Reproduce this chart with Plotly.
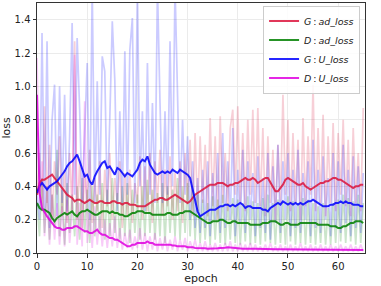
import plotly.graph_objects as go

# ---- data (sampled every half epoch) ----
g_ad_raw = [0.35, 0.60, 0.25, 0.88, 0.30, 0.65, 0.20, 0.55, 0.35, 0.70, 0.22, 0.50, 0.18, 0.60, 0.25, 1.27,
            0.20, 0.55, 0.15, 0.48, 0.30, 0.62, 0.18, 0.45, 0.25, 0.55, 0.15, 0.50, 0.28, 0.60, 0.20, 0.45,
            0.30, 0.55, 0.15, 0.48, 0.22, 0.50, 0.18, 0.42, 0.30, 0.58, 0.20, 0.52, 0.25, 0.60, 0.18, 0.55,
            0.30, 0.62, 0.22, 0.50, 0.28, 0.58, 0.20, 0.48, 0.25, 0.55, 0.18, 0.60, 0.30, 0.68, 0.22, 0.72,
            0.25, 0.70, 0.30, 0.65, 0.22, 0.81, 0.28, 0.70, 0.20, 0.82, 0.30, 0.60, 0.25, 0.75, 0.86, 0.35,
            0.88, 0.30, 0.72, 0.25, 0.80, 0.35, 0.86, 0.30, 0.87, 0.28, 0.75, 0.22, 0.70, 0.30, 0.62, 0.20,
            0.65, 0.30, 0.95, 0.35, 0.80, 0.25, 0.72, 0.30, 0.68, 0.20, 0.81, 0.28, 0.70, 0.35, 1.01, 0.25,
            0.75, 0.30, 0.83, 0.22, 0.70, 0.30, 0.78, 0.25, 0.72, 0.35, 0.80, 0.28, 0.68, 0.22, 0.75, 0.30,
            0.60, 0.25, 0.87]

d_ad_raw = [0.30, 0.10, 0.45, 0.12, 0.40, 0.08, 0.35, 0.15, 0.62, 0.10, 0.38, 0.05, 0.42, 0.12, 0.35, 0.10,
            0.40, 0.08, 0.45, 0.12, 0.38, 0.06, 0.40, 0.10, 0.35, 0.12, 0.42, 0.08, 0.38, 0.10, 0.45, 0.12,
            0.36, 0.08, 0.40, 0.10, 0.42, 0.06, 0.38, 0.12, 0.35, 0.08, 0.40, 0.10, 0.44, 0.12, 0.38, 0.08,
            0.36, 0.10, 0.42, 0.06, 0.40, 0.12, 0.38, 0.10, 0.45, 0.08, 0.40, 0.12, 0.42, 0.10, 0.38, 0.08,
            0.35, 0.06, 0.32, 0.08, 0.30, 0.05, 0.34, 0.08, 0.32, 0.06, 0.35, 0.05, 0.30, 0.08, 0.33, 0.06,
            0.32, 0.05, 0.30, 0.07, 0.34, 0.05, 0.31, 0.06, 0.30, 0.05, 0.33, 0.07, 0.35, 0.06, 0.30, 0.05,
            0.32, 0.06, 0.30, 0.05, 0.34, 0.07, 0.31, 0.05, 0.30, 0.06, 0.33, 0.05, 0.32, 0.06, 0.30, 0.05,
            0.28, 0.06, 0.30, 0.05, 0.27, 0.05, 0.30, 0.06, 0.32, 0.07, 0.35, 0.06, 0.33, 0.07, 0.31, 0.05,
            0.35, 0.06, 0.30]

g_u_raw = [0.35, 0.20, 1.32, 0.25, 1.27, 0.15, 0.80, 1.01, 0.22, 1.00, 0.30, 0.95, 0.25, 0.70, 1.38, 0.35,
           1.29, 0.86, 0.30, 0.75, 1.14, 0.20, 1.60, 0.30, 1.03, 0.35, 1.18, 1.09, 0.30, 0.80, 1.39, 1.04,
           0.25, 0.85, 0.30, 1.21, 0.35, 1.22, 1.41, 0.30, 1.60, 0.40, 0.85, 0.25, 1.14, 0.35, 0.90, 0.30,
           1.60, 0.91, 0.30, 0.85, 0.35, 1.27, 0.40, 1.60, 1.02, 0.30, 0.80, 0.35, 0.70, 0.20, 0.55, 0.15,
           0.45, 0.12, 0.50, 0.15, 0.55, 0.10, 0.48, 0.20, 0.60, 0.12, 0.72, 0.15, 0.55, 0.20, 0.75, 0.10,
           0.50, 0.18, 0.62, 0.12, 0.55, 0.20, 0.48, 0.10, 0.58, 0.15, 0.45, 0.12, 0.60, 0.08, 0.52, 0.18,
           0.65, 0.12, 0.55, 0.20, 0.60, 0.10, 0.50, 0.15, 0.62, 0.12, 0.48, 0.20, 0.55, 0.10, 0.68, 0.15,
           0.50, 0.12, 0.58, 0.20, 0.45, 0.10, 0.60, 0.15, 0.55, 0.12, 0.65, 0.18, 0.50, 0.10, 0.58, 0.15,
           0.52, 0.12, 0.48]

d_u_raw = [1.17, 0.30, 0.55, 0.10, 0.40, 0.05, 0.35, 0.08, 0.30, 0.05, 0.28, 0.04, 0.32, 0.06, 0.25, 1.19,
           0.05, 0.30, 0.04, 0.91, 0.06, 0.25, 0.03, 0.28, 0.05, 0.22, 0.04, 0.20, 0.03, 0.18, 0.04, 0.22,
           0.03, 0.15, 0.02, 0.12, 0.03, 0.14, 0.02, 0.10, 0.03, 0.15, 0.02, 0.12, 0.01, 0.10, 0.02, 0.12,
           0.01, 0.09, 0.02, 0.10, 0.01, 0.08, 0.02, 0.10, 0.01, 0.08, 0.02, 0.09, 0.01, 0.07, 0.02, 0.08,
           0.01, 0.06, 0.01, 0.07, 0.01, 0.05, 0.01, 0.06, 0.01, 0.05, 0.01, 0.06, 0.01, 0.07, 0.01, 0.05,
           0.01, 0.06, 0.01, 0.05, 0.01, 0.06, 0.01, 0.05, 0.01, 0.04, 0.01, 0.05, 0.01, 0.06, 0.01, 0.04,
           0.01, 0.05, 0.01, 0.04, 0.01, 0.05, 0.01, 0.04, 0.01, 0.06, 0.01, 0.04, 0.01, 0.05, 0.01, 0.04,
           0.01, 0.05, 0.01, 0.04, 0.01, 0.05, 0.01, 0.04, 0.01, 0.05, 0.01, 0.04, 0.01, 0.05, 0.01, 0.04,
           0.01, 0.05, 0.01]

g_ad_smooth = [0.35, 0.42, 0.44, 0.44, 0.45, 0.46, 0.47, 0.45, 0.43, 0.41, 0.39, 0.37, 0.35, 0.34, 0.33, 0.31,
               0.32, 0.32, 0.31, 0.30, 0.31, 0.32, 0.31, 0.30, 0.30, 0.31, 0.31, 0.30, 0.30, 0.30, 0.31, 0.31,
               0.30, 0.30, 0.29, 0.30, 0.30, 0.29, 0.29, 0.29, 0.28, 0.28, 0.28, 0.28, 0.29, 0.30, 0.31, 0.32,
               0.32, 0.33, 0.33, 0.32, 0.32, 0.33, 0.34, 0.35, 0.34, 0.33, 0.32, 0.31, 0.30, 0.31, 0.33, 0.35,
               0.36, 0.37, 0.38, 0.39, 0.40, 0.41, 0.41, 0.41, 0.42, 0.42, 0.42, 0.41, 0.40, 0.41, 0.41, 0.42,
               0.42, 0.43, 0.44, 0.45, 0.44, 0.44, 0.45, 0.44, 0.42, 0.43, 0.44, 0.45, 0.45, 0.42, 0.40, 0.37,
               0.37, 0.39, 0.41, 0.44, 0.45, 0.44, 0.43, 0.42, 0.41, 0.41, 0.42, 0.40, 0.39, 0.38, 0.39, 0.40,
               0.41, 0.42, 0.42, 0.43, 0.43, 0.44, 0.45, 0.45, 0.44, 0.44, 0.43, 0.42, 0.41, 0.40, 0.39, 0.40,
               0.40, 0.41, 0.41]

d_ad_smooth = [0.30, 0.27, 0.26, 0.26, 0.25, 0.24, 0.21, 0.19, 0.21, 0.22, 0.23, 0.24, 0.23, 0.24, 0.25, 0.23,
               0.22, 0.24, 0.25, 0.25, 0.26, 0.25, 0.24, 0.23, 0.23, 0.24, 0.25, 0.25, 0.25, 0.24, 0.25, 0.24,
               0.24, 0.23, 0.23, 0.22, 0.22, 0.23, 0.24, 0.24, 0.25, 0.25, 0.25, 0.24, 0.24, 0.24, 0.23, 0.23,
               0.23, 0.23, 0.23, 0.23, 0.24, 0.24, 0.23, 0.23, 0.23, 0.24, 0.24, 0.25, 0.25, 0.25, 0.24, 0.23,
               0.22, 0.21, 0.20, 0.19, 0.18, 0.18, 0.19, 0.19, 0.19, 0.20, 0.20, 0.19, 0.18, 0.18, 0.19, 0.19,
               0.18, 0.18, 0.18, 0.18, 0.18, 0.17, 0.17, 0.17, 0.17, 0.17, 0.18, 0.18, 0.18, 0.19, 0.19, 0.19,
               0.18, 0.17, 0.17, 0.18, 0.18, 0.17, 0.17, 0.17, 0.17, 0.18, 0.18, 0.18, 0.18, 0.18, 0.18, 0.18,
               0.17, 0.17, 0.17, 0.17, 0.17, 0.16, 0.16, 0.16, 0.15, 0.15, 0.16, 0.16, 0.17, 0.18, 0.18, 0.19,
               0.19, 0.19, 0.18]

g_u_smooth = [0.36, 0.40, 0.42, 0.40, 0.38, 0.40, 0.41, 0.42, 0.43, 0.45, 0.47, 0.49, 0.52, 0.54, 0.55, 0.57,
              0.59, 0.55, 0.50, 0.46, 0.47, 0.43, 0.41, 0.46, 0.49, 0.52, 0.54, 0.55, 0.51, 0.52, 0.49, 0.47,
              0.51, 0.50, 0.48, 0.46, 0.48, 0.47, 0.46, 0.48, 0.50, 0.54, 0.56, 0.55, 0.58, 0.53, 0.50, 0.48,
              0.47, 0.48, 0.49, 0.48, 0.49, 0.48, 0.50, 0.49, 0.48, 0.50, 0.49, 0.48, 0.47, 0.45, 0.38, 0.30,
              0.25, 0.22, 0.23, 0.24, 0.25, 0.26, 0.26, 0.26, 0.27, 0.28, 0.28, 0.29, 0.29, 0.28, 0.29, 0.28,
              0.29, 0.30, 0.29, 0.27, 0.28, 0.28, 0.27, 0.27, 0.27, 0.27, 0.26, 0.26, 0.25, 0.27, 0.28, 0.29,
              0.30, 0.29, 0.31, 0.30, 0.29, 0.30, 0.29, 0.30, 0.29, 0.30, 0.29, 0.30, 0.31, 0.31, 0.32, 0.31,
              0.30, 0.29, 0.28, 0.28, 0.28, 0.29, 0.29, 0.30, 0.30, 0.31, 0.30, 0.31, 0.30, 0.30, 0.29, 0.29,
              0.29, 0.28, 0.28]

d_u_smooth = [0.95, 0.36, 0.27, 0.24, 0.22, 0.20, 0.18, 0.16, 0.15, 0.15, 0.14, 0.14, 0.15, 0.15, 0.15, 0.16,
              0.16, 0.15, 0.14, 0.13, 0.13, 0.12, 0.12, 0.13, 0.14, 0.12, 0.11, 0.11, 0.10, 0.09, 0.09, 0.08,
              0.08, 0.07, 0.06, 0.05, 0.04, 0.04, 0.05, 0.05, 0.06, 0.06, 0.06, 0.06, 0.07, 0.06, 0.06, 0.05,
              0.05, 0.05, 0.05, 0.05, 0.05, 0.05, 0.045, 0.045, 0.04, 0.04, 0.04, 0.04, 0.035, 0.035, 0.035, 0.03,
              0.03, 0.03, 0.03, 0.028, 0.025, 0.025, 0.025, 0.025, 0.028, 0.03, 0.03, 0.032, 0.035, 0.033, 0.03, 0.03,
              0.028, 0.025, 0.025, 0.025, 0.024, 0.024, 0.025, 0.026, 0.025, 0.025, 0.025, 0.024, 0.023, 0.022, 0.022, 0.022,
              0.022, 0.022, 0.022, 0.021, 0.02, 0.02, 0.02, 0.021, 0.022, 0.022, 0.021, 0.02, 0.02, 0.02, 0.019, 0.019,
              0.02, 0.02, 0.02, 0.021, 0.02, 0.02, 0.02, 0.02, 0.019, 0.019, 0.02, 0.02, 0.02, 0.02, 0.02, 0.019,
              0.018, 0.018, 0.018]

names = ["<i>G</i>\u2009:\u2009<i>ad_loss</i>", "<i>D</i>\u2009:\u2009<i>ad_loss</i>",
         "<i>G</i>\u2009:\u2009<i>U_loss</i>", "<i>D</i>\u2009:\u2009<i>U_loss</i>"]
colors = ["#dc143c", "#008000", "#0000ff", "#e000e0"]
raws = [g_ad_raw, d_ad_raw, g_u_raw, d_u_raw]
smooths = [g_ad_smooth, d_ad_smooth, g_u_smooth, d_u_smooth]


def epochs(vals):
    return [i * 0.5 for i in range(len(vals))]


fig = go.Figure()
for vals, c in zip(raws, colors):
    fig.add_trace(go.Scatter(x=epochs(vals), y=vals, mode="lines",
                             line=dict(color=c, width=1.7), opacity=0.2,
                             showlegend=False, hoverinfo="skip"))
for vals, c, n in zip(smooths, colors, names):
    fig.add_trace(go.Scatter(x=epochs(vals), y=vals, mode="lines", name=n,
                             line=dict(color=c, width=2), opacity=0.85))

axis_common = dict(showgrid=True, gridcolor="#ebebeb", gridwidth=1,
                   showline=True, linecolor="#333333", linewidth=1, mirror=True,
                   ticks="outside", ticklen=3.5, tickwidth=1, tickcolor="#333333",
                   zeroline=False, tickfont=dict(size=10, color="#222222"))

fig.update_layout(
    width=381, height=286,
    margin=dict(l=37, r=16, t=3, b=33),
    paper_bgcolor="white", plot_bgcolor="white",
    font=dict(family="DejaVu Sans", size=10, color="#222222"),
    xaxis=dict(range=[0, 65.35], tickvals=[0, 10, 20, 30, 40, 50, 60],
               title=dict(text="epoch", font=dict(size=11), standoff=3), **axis_common),
    yaxis=dict(range=[0, 1.5], tickvals=[0, 0.2, 0.4, 0.6, 0.8, 1.0, 1.2, 1.4],
               tickformat=".1f",
               title=dict(text="loss", font=dict(size=11), standoff=3), **axis_common),
    legend=dict(x=0.985, y=0.99, xanchor="right", yanchor="top",
                bgcolor="rgba(255,255,255,0.85)", bordercolor="#cccccc", borderwidth=1,
                font=dict(size=9.5), tracegroupgap=0, itemwidth=30),
)

fig.write_html("out.html", config={"displayModeBar": False},
               post_script="document.body.style.margin='0';")
